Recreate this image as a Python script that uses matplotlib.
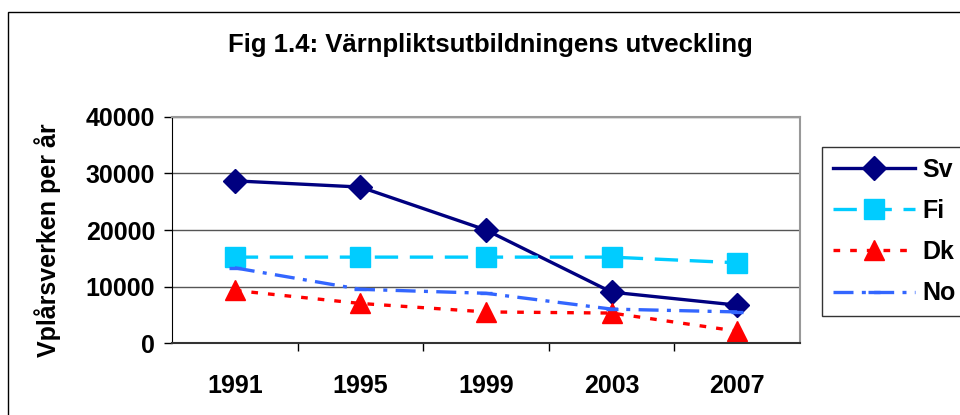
import matplotlib.pyplot as plt
from matplotlib.patches import Rectangle

plt.rcParams['font.family'] = ['Liberation Sans', 'DejaVu Sans']
plt.rcParams['font.weight'] = 'bold'

years = ["1991", "1995", "1999", "2003", "2007"]
sv = [28700, 27600, 20000, 9000, 6700]
fi = [15200, 15200, 15200, 15200, 14200]
dk = [9300, 7000, 5500, 5300, 2100]
no = [13300, 9500, 8800, 6000, 5500]

fig = plt.figure(figsize=(9.6, 4.15), dpi=100)
ax = fig.add_axes([172 / 960, 1 - 343 / 415, 628 / 960, 226 / 415])

# outer chart frame
fig.patches.append(Rectangle((8 / 960, -0.1), 1.2, 1.1 - 12 / 415,
                             transform=fig.transFigure, fill=False,
                             edgecolor='black', linewidth=1.0))

x = range(len(years))
ax.plot(x, sv, color='#000080', linewidth=2.4, marker='D', markersize=12,
        label='Sv')
ax.plot(x, fi, color='#00CCFF', linewidth=2.4, linestyle=(0, (7, 3.5)),
        marker='s', markersize=14, label='Fi')
ax.plot(x, dk, color='#FF0000', linewidth=2.4, linestyle=(0, (2, 3)),
        marker='^', markersize=14, label='Dk')
ax.plot(x, no, color='#3366FF', linewidth=2.4, linestyle=(0, (6, 2.5, 1.2, 2.5)),
        marker='_', markersize=8, markeredgewidth=2.4, label='No')

ax.set_xlim(-0.5, 4.5)
ax.set_ylim(0, 40000)
ax.set_yticks([0, 10000, 20000, 30000, 40000])
ax.set_xticks(x)
ax.set_xticklabels(years, fontsize=18, fontweight='bold')
ax.set_xticks([0.5, 1.5, 2.5, 3.5], minor=True)
ax.tick_params(axis='x', which='major', length=0, pad=22)
ax.tick_params(axis='x', which='minor', length=6, width=1, color='black')
ax.tick_params(axis='y', length=6, width=1, labelsize=18, pad=6)
for t in ax.get_yticklabels():
    t.set_fontweight('bold')

ax.grid(axis='y', color='#555555', linewidth=1)
ax.set_axisbelow(True)
for s in ['top', 'right']:
    ax.spines[s].set_color('#999999')
    ax.spines[s].set_linewidth(1.5)
ax.spines['left'].set_color('black')
ax.spines['bottom'].set_color('#333333')
ax.spines['bottom'].set_linewidth(1.5)

fig.text(48 / 960, 1 - 240 / 415, 'Vplårsverken per år', rotation=90,
         ha='center', va='center', fontsize=18, fontweight='bold')
fig.text(490 / 960, 1 - 45 / 415, 'Fig 1.4: Värnpliktsutbildningens utveckling',
         ha='center', va='center', fontsize=18.5, fontweight='bold')

leg = ax.legend(loc='upper left',
                bbox_to_anchor=(822 / 960, 1 - 147 / 415, 0.2, 0),
                bbox_transform=fig.transFigure, mode='expand',
                frameon=True, fancybox=False,
                fontsize=18, handlelength=3.3, labelspacing=0.69,
                borderpad=0.42, handletextpad=0.3, borderaxespad=0)
leg.get_frame().set_edgecolor('black')
leg.get_frame().set_linewidth(1)
for t in leg.get_texts():
    t.set_fontweight('bold')

fig.savefig('out.png', dpi=100)
